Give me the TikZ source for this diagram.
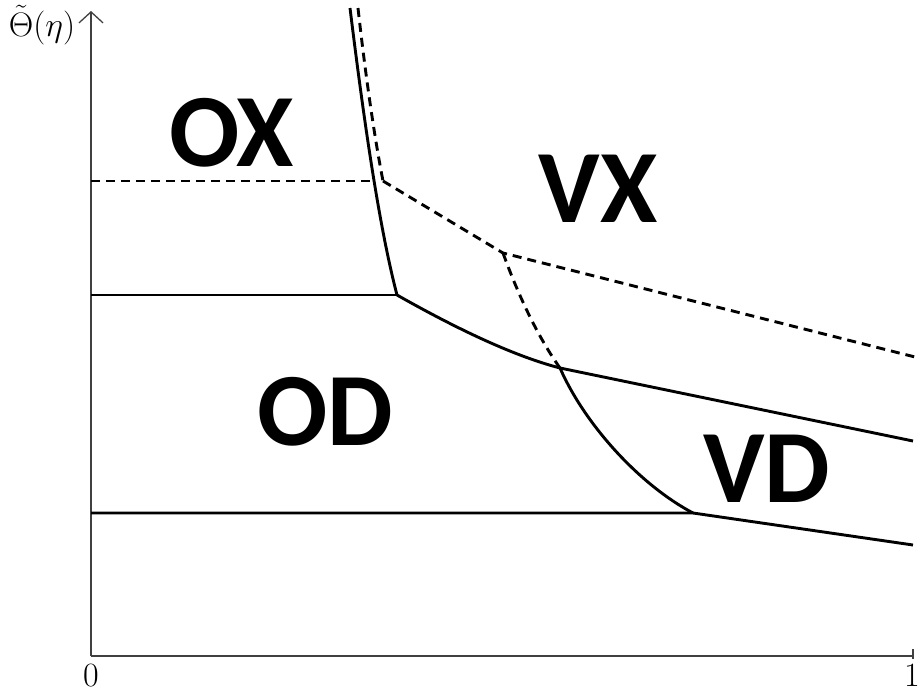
\RequirePackage{fix-cm}
\documentclass[tikz,border=0pt]{standalone}
\usepackage{fontspec}
\newfontfamily\regfont{Carlito}
\usetikzlibrary{arrows.meta}
\tikzset{
  axisline/.style={line width=1.3pt, black!75},
  curve/.style={line width=2.9pt, black},
  dcurve/.style={line width=2.9pt, black, dash pattern=on 9pt off 6pt},
  region/.style={font=\regfont\bfseries\fontsize{104}{110}\selectfont, inner sep=0pt},
  ticklab/.style={font=\fontsize{34}{40}\selectfont, inner sep=0pt}
}
\begin{document}
\begin{tikzpicture}[x=1pt,y=-1pt]
\useasboundingbox (0,0) rectangle (919,696);
% axes
\coordinate (O) at (91,656);
\coordinate (Ytop) at (91,11);
\coordinate (Xend) at (913,656);
\draw[axisline,-{Straight Barb[length=11pt,width=24pt]}] (O) -- (Ytop);
\draw[axisline] (O) -- (Xend);
\coordinate (T1) at (913,649);
\coordinate (T2) at (913,659);
\draw[axisline] (T1) -- (T2);
\node[ticklab] (l0) at (91,676) {$0$};
\node[ticklab] (l1) at (912,676) {$1$};
\node[ticklab] (ylab) at (42,25) {$\tilde{\Theta}(\eta)$};
% key points
\coordinate (A0) at (350,8);
\coordinate (A1) at (397,295);
\coordinate (B0) at (358,8);
\coordinate (B1) at (383,181);
\coordinate (B2) at (503,253);
\coordinate (B3) at (919,358);
\coordinate (C) at (560,368);
\coordinate (D1) at (913,441);
\coordinate (E1) at (693,513);
\coordinate (E2) at (913,545);
\coordinate (H0) at (91,181);
\coordinate (H1) at (375,181);
\coordinate (S0) at (91,295);
\coordinate (L0) at (91,513);
% solid lines
\draw[curve] (A0) .. controls (365,130) and (380,230) .. (A1);
\draw[curve] (S0) -- (A1);
\draw[curve] (A1) .. controls (450,325) and (510,355) .. (C);
\draw[curve] (C) -- (D1);
\draw[curve] (C) .. controls (585,425) and (640,485) .. (E1);
\draw[curve] (L0) -- (E1) -- (E2);
% dashed lines
\draw[dcurve] (H0) -- (H1);
\draw[dcurve] (B0) .. controls (366,80) and (375,140) .. (B1);
\draw[dcurve] (B1) -- (B2) -- (B3);
\draw[dcurve] (B2) .. controls (520,300) and (540,340) .. (C);
% region labels
\node[region] (ox) at (232,133) {OX};
\node[region] (vx) at (598,189) {VX};
\node[region] (od) at (325,412) {OD};
\node[region] (vd) at (767,469) {VD};
\end{tikzpicture}
\end{document}
